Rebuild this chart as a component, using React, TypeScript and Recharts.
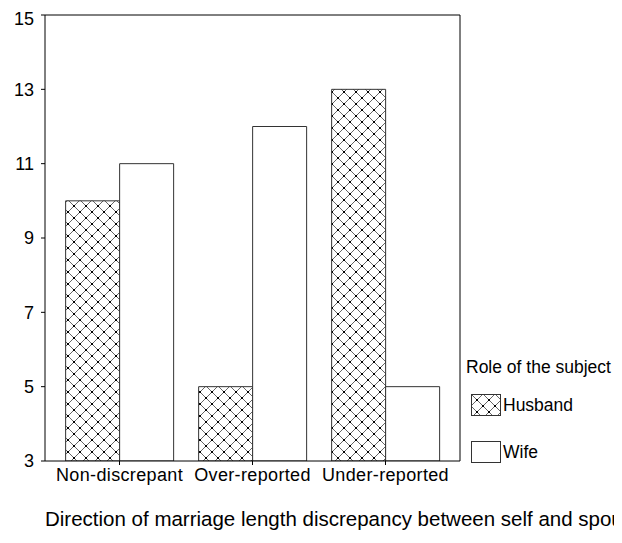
import { BarChart, Bar, XAxis, YAxis } from "recharts";

const categories = ["Non-discrepant", "Over-reported", "Under-reported"];
const husband = [10, 5, 13];
const wife = [11, 12, 5];
const yTicks = [3, 5, 7, 9, 11, 13, 15];

const data = categories.map((name, i) => ({ name, husband: husband[i], wife: wife[i] }));

const FONT = "Arial, 'Liberation Sans', sans-serif";

function Hatch({ id }: { id: string }) {
  return (
    <pattern id={id} width="12" height="12" patternUnits="userSpaceOnUse">
      <rect width="12" height="12" fill="#fff" />
      <path d="M0 0 L12 12 M12 0 L0 12" stroke="#666" strokeWidth={1} />
      <rect x="5" y="5" width="2" height="2" fill="#000" />
      <rect x="-1" y="-1" width="2" height="2" fill="#000" />
      <rect x="11" y="-1" width="2" height="2" fill="#000" />
      <rect x="-1" y="11" width="2" height="2" fill="#000" />
      <rect x="11" y="11" width="2" height="2" fill="#000" />
    </pattern>
  );
}

function LegendBox() {
  const row = { display: "flex", alignItems: "center", height: 23 } as const;
  return (
    <div style={{ position: "absolute", left: 458, top: 349, fontFamily: FONT, fontSize: 17.5, color: "#000", lineHeight: "21px" }}>
      <div style={{ marginBottom: 16 }}>Role of the subject</div>
      <div style={{ ...row, marginLeft: 5, marginBottom: 24 }}>
        <svg width={32} height={23} style={{ display: "block" }}>
          <defs>
            <Hatch id="hatchLegend" />
          </defs>
          <rect x={0.5} y={0.5} width={29} height={21} fill="url(#hatchLegend)" stroke="#333" />
        </svg>
        <span>Husband</span>
      </div>
      <div style={{ ...row, marginLeft: 5 }}>
        <svg width={32} height={23} style={{ display: "block" }}>
          <rect x={0.5} y={0.5} width={29} height={21} fill="#fff" stroke="#333" />
        </svg>
        <span>Wife</span>
      </div>
    </div>
  );
}

export default function App() {
  return (
    <div style={{ position: "relative", width: 614, height: 535, overflow: "hidden" }}>
      <BarChart
        width={614}
        height={535}
        data={data}
        margin={{ top: 6, right: 161, left: 0, bottom: 52 }}
        barCategoryGap="9.5%"
        barGap={0}
      >
        <defs>
          <Hatch id="hatch" />
        </defs>
        <XAxis
          dataKey="name"
          padding={{ left: 8, right: 8 }}
          stroke="#000"
          tickSize={4}
          tickMargin={3}
          height={30}
          tick={{ fill: "#000", fontSize: 18, fontFamily: FONT, letterSpacing: 0.35 }}
          label={{
            content: () => (
              <text x={37} y={518} fontSize={20.5} fontFamily={FONT} fill="#000">
                Direction of marriage length discrepancy between self and spouse
              </text>
            ),
          }}
        />
        <XAxis xAxisId="top" dataKey="name" orientation="top" height={1} tick={false} tickLine={false} stroke="#000" />
        <YAxis
          domain={[3, 15]}
          ticks={yTicks}
          width={37}
          stroke="#000"
          tickSize={4}
          tickMargin={7}
          allowDataOverflow
          tick={{ fill: "#000", fontSize: 18, fontFamily: FONT }}
        />
        <YAxis yAxisId="right" orientation="right" width={1} tick={false} tickLine={false} stroke="#000" domain={[3, 15]} />
        <Bar dataKey="husband" name="Husband" fill="url(#hatch)" stroke="#333" strokeWidth={1} isAnimationActive={false} />
        <Bar dataKey="wife" name="Wife" fill="#fff" stroke="#333" strokeWidth={1} isAnimationActive={false} />
      </BarChart>
      <LegendBox />
    </div>
  );
}
